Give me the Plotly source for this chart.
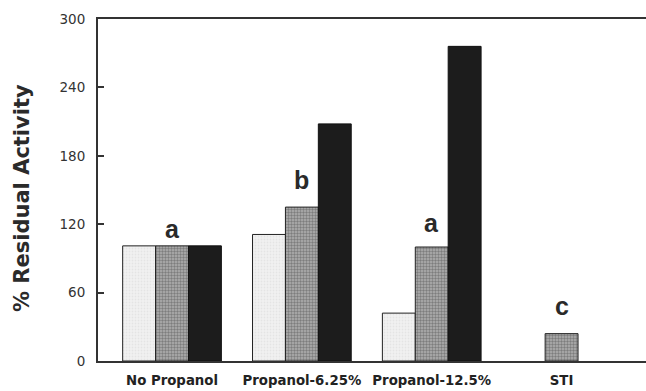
import plotly.graph_objects as go

categories = ["No Propanol", "Propanol-6.25%", "Propanol-12.5%", "STI"]
light_vals = [101, 111, 42, None]
medium_vals = [101, 135, 100, 24]
dark_vals = [101, 208, 276, None]
letters = ["a", "b", "a", "c"]
letter_y = [116, 159, 121, 48]
y_ticks = [0, 60, 120, 180, 240, 300]
y_title = "% Residual Activity"

fig = go.Figure()
fig.add_trace(go.Bar(
    x=categories, y=light_vals, name="light",
    marker=dict(color="#ececec", line=dict(color="#222", width=1),
                pattern=dict(shape=".", fgcolor="#d8d8d8", bgcolor="#f1f1f1", size=3, solidity=0.3)),
))
fig.add_trace(go.Bar(
    x=categories, y=medium_vals, name="medium",
    marker=dict(color="#8a8a8a", line=dict(color="#222", width=1),
                pattern=dict(shape=".", fgcolor="#4a4a4a", bgcolor="#b0b0b0", size=3, solidity=0.5)),
))
fig.add_trace(go.Bar(
    x=categories, y=dark_vals, name="dark",
    marker=dict(color="#1c1c1c", line=dict(color="#111", width=1)),
))

for c, l, ly in zip(categories, letters, letter_y):
    fig.add_annotation(x=c, y=ly, text=l, showarrow=False,
                       font=dict(family="Liberation Sans, Arial", size=25, color="#2a2a2a", weight="bold"),
                       yanchor="middle")

# y-axis title placed as rotated annotation
fig.add_annotation(xref="paper", yref="paper", x=-0.1387, y=0.4766, text=y_title,
                   textangle=-90, showarrow=False, xanchor="center", yanchor="middle",
                   font=dict(family="DejaVu Sans", size=21, color="#2a2a2a", weight="bold"))

fig.update_layout(
    width=646, height=391,
    margin=dict(l=98, r=0, t=19, b=30),
    paper_bgcolor="white", plot_bgcolor="white",
    showlegend=False,
    barmode="group", bargap=0.24, bargroupgap=0,
    xaxis=dict(
        range=[-0.57, 3.65],
        showline=True, linecolor="#333", linewidth=2, mirror=True,
        ticks="", showgrid=False, zeroline=False,
        tickfont=dict(family="DejaVu Sans", size=13.3, color="#222", weight="bold"),
        ticklabelstandoff=6,
    ),
    yaxis=dict(
        range=[0, 300], tickvals=y_ticks,
        showline=True, linecolor="#333", linewidth=2,
        ticks="inside", ticklen=6, tickwidth=1.5, tickcolor="#333",
        showgrid=False, zeroline=False,
        tickfont=dict(family="DejaVu Sans", size=13.5, color="#333"),
        ticklabelstandoff=8,
    ),
)

fig.write_html("out.html", config={"displayModeBar": False},
               post_script="document.body.style.margin='0';document.body.style.padding='0';")
